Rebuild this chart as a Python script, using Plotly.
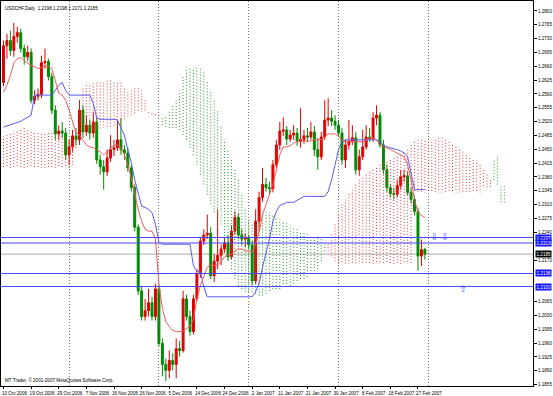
import plotly.graph_objects as go

# ---------------- data ----------------
bar_index = list(range(123))

opens = [1.2619,1.2712,1.2725,1.2700,1.2735,1.2745,1.2705,1.2684,1.2695,1.2574,
         1.2584,1.2589,1.2669,1.2672,1.2634,1.2549,1.2489,1.2496,1.2491,1.2436,
         1.2456,1.2484,1.2474,1.2549,1.2494,1.2511,1.2491,1.2519,1.2423,1.2406,
         1.2393,1.2428,1.2449,1.2454,1.2474,1.2449,1.2441,1.2403,1.2353,1.2253,
         1.2092,1.2027,1.2042,1.2062,1.2027,1.2097,1.1959,1.1906,1.1891,1.1916,
         1.1906,1.1946,1.1941,1.2072,1.2027,1.1989,1.2072,1.2135,1.2218,1.2233,
         1.2238,1.2130,1.2167,1.2182,1.2198,1.2213,1.2178,1.2243,1.2278,1.2233,
         1.2223,1.2228,1.2208,1.2117,1.2268,1.2328,1.2361,1.2353,1.2351,1.2411,
         1.2461,1.2496,1.2499,1.2476,1.2486,1.2491,1.2471,1.2474,1.2484,1.2481,
         1.2494,1.2449,1.2431,1.2481,1.2524,1.2529,1.2521,1.2511,1.2491,1.2423,
         1.2461,1.2471,1.2479,1.2398,1.2431,1.2456,1.2481,1.2476,1.2529,1.2536,
         1.2461,1.2398,1.2353,1.2338,1.2336,1.2358,1.2381,1.2383,1.2341,1.2323,
         1.2293,1.2180,1.2198]
highs = [1.2725,1.2742,1.2750,1.2770,1.2760,1.2755,1.2715,1.2712,1.2705,1.2599,
         1.2604,1.2687,1.2705,1.2679,1.2644,1.2561,1.2511,1.2519,1.2504,1.2474,
         1.2499,1.2504,1.2574,1.2561,1.2536,1.2524,1.2544,1.2529,1.2436,1.2423,
         1.2449,1.2486,1.2474,1.2524,1.2529,1.2461,1.2454,1.2411,1.2361,1.2260,
         1.2102,1.2072,1.2097,1.2077,1.2110,1.2107,1.1972,1.1921,1.1941,1.1934,
         1.1972,1.1966,1.2092,1.2082,1.2042,1.2082,1.2147,1.2228,1.2248,1.2285,
         1.2253,1.2185,1.2298,1.2210,1.2228,1.2233,1.2258,1.2293,1.2288,1.2248,
         1.2238,1.2233,1.2218,1.2298,1.2343,1.2403,1.2378,1.2368,1.2423,1.2474,
         1.2519,1.2531,1.2509,1.2499,1.2511,1.2504,1.2554,1.2499,1.2504,1.2519,
         1.2509,1.2479,1.2494,1.2574,1.2579,1.2549,1.2536,1.2524,1.2504,1.2474,
         1.2524,1.2511,1.2494,1.2449,1.2499,1.2511,1.2504,1.2544,1.2561,1.2544,
         1.2474,1.2411,1.2363,1.2353,1.2373,1.2398,1.2398,1.2393,1.2353,1.2333,
         1.2303,1.2222,1.2198]
lows = [1.2609,1.2679,1.2687,1.2684,1.2720,1.2695,1.2664,1.2674,1.2566,1.2564,
        1.2574,1.2579,1.2654,1.2624,1.2539,1.2474,1.2474,1.2479,1.2423,1.2411,
        1.2444,1.2459,1.2461,1.2479,1.2484,1.2474,1.2479,1.2413,1.2386,1.2348,
        1.2383,1.2418,1.2433,1.2446,1.2436,1.2423,1.2393,1.2343,1.2243,1.2082,
        1.2017,1.2017,1.2027,1.2017,1.2017,1.1952,1.1876,1.1864,1.1871,1.1891,
        1.1871,1.1926,1.1936,1.2017,1.1979,1.1982,1.2067,1.2125,1.2208,1.2223,
        1.2122,1.2115,1.2147,1.2157,1.2188,1.2167,1.2172,1.2233,1.2223,1.2208,
        1.2203,1.2198,1.2107,1.2110,1.2243,1.2318,1.2343,1.2336,1.2341,1.2403,
        1.2449,1.2484,1.2461,1.2469,1.2474,1.2459,1.2454,1.2464,1.2469,1.2474,
        1.2433,1.2398,1.2423,1.2474,1.2509,1.2509,1.2499,1.2481,1.2411,1.2403,
        1.2449,1.2461,1.2386,1.2383,1.2423,1.2449,1.2469,1.2469,1.2511,1.2454,
        1.2388,1.2343,1.2328,1.2323,1.2328,1.2348,1.2368,1.2333,1.2313,1.2283,
        1.2143,1.2155,1.2171]
closes = [1.2712,1.2725,1.2700,1.2735,1.2745,1.2705,1.2684,1.2695,1.2574,1.2584,
          1.2589,1.2669,1.2672,1.2634,1.2549,1.2489,1.2496,1.2491,1.2436,1.2456,
          1.2484,1.2474,1.2549,1.2494,1.2511,1.2491,1.2519,1.2423,1.2406,1.2393,
          1.2428,1.2449,1.2454,1.2474,1.2449,1.2441,1.2403,1.2353,1.2253,1.2092,
          1.2027,1.2042,1.2062,1.2027,1.2097,1.1959,1.1906,1.1891,1.1916,1.1906,
          1.1946,1.1941,1.2072,1.2027,1.1989,1.2072,1.2135,1.2218,1.2233,1.2238,
          1.2130,1.2167,1.2182,1.2198,1.2213,1.2178,1.2243,1.2278,1.2233,1.2223,
          1.2228,1.2208,1.2117,1.2268,1.2328,1.2361,1.2353,1.2351,1.2411,1.2461,
          1.2496,1.2499,1.2476,1.2486,1.2491,1.2471,1.2474,1.2484,1.2481,1.2494,
          1.2449,1.2431,1.2481,1.2524,1.2529,1.2521,1.2511,1.2491,1.2423,1.2461,
          1.2471,1.2479,1.2398,1.2431,1.2456,1.2481,1.2476,1.2529,1.2536,1.2461,
          1.2398,1.2353,1.2338,1.2336,1.2358,1.2381,1.2383,1.2341,1.2323,1.2293,
          1.2180,1.2196,1.2185]

tenkan = [1.2594,1.2612,1.2637,1.2669,1.2679,1.2682,1.2674,1.2667,1.2662,1.2659,
          1.2654,1.2657,1.2659,1.2659,1.2654,1.2624,1.2592,1.2587,1.2574,1.2549,
          1.2519,1.2491,1.2486,1.2474,1.2461,1.2456,1.2454,1.2449,1.2444,1.2436,
          1.2444,1.2454,1.2461,1.2461,1.2454,1.2436,1.2411,1.2378,1.2336,1.2298,
          1.2268,1.2248,1.2243,1.2243,1.2223,1.2110,1.2047,1.2014,1.2002,1.1992,
          1.1989,1.1989,1.1989,1.1997,1.2002,1.2022,1.2072,1.2105,1.2130,1.2152,
          1.2157,1.2157,1.2157,1.2167,1.2178,1.2183,1.2185,1.2193,1.2198,1.2198,
          1.2193,1.2193,1.2190,1.2210,1.2240,1.2285,1.2311,1.2336,1.2361,1.2398,
          1.2436,1.2456,1.2456,1.2459,1.2466,1.2469,1.2469,1.2471,1.2471,1.2471,
          1.2474,1.2474,1.2474,1.2481,1.2489,1.2489,1.2489,1.2484,1.2474,1.2469,
          1.2469,1.2469,1.2469,1.2469,1.2469,1.2474,1.2479,1.2479,1.2474,1.2461,
          1.2456,1.2454,1.2449,1.2444,1.2441,1.2436,1.2431,1.2411,1.2373,1.2323,
          1.2290,1.2283,1.2278]
kijun = [1.2506,1.2509,1.2511,1.2516,1.2519,1.2521,1.2526,1.2531,1.2536,1.2587,
         1.2587,1.2587,1.2587,1.2587,1.2587,1.2599,1.2612,1.2619,1.2599,1.2587,
         1.2587,1.2587,1.2587,1.2587,1.2587,1.2587,1.2566,1.2529,1.2526,1.2526,
         1.2526,1.2526,1.2526,1.2524,1.2504,1.2486,1.2449,1.2416,1.2373,1.2336,
         1.2306,1.2303,1.2298,1.2290,1.2260,1.2215,1.2210,1.2210,1.2210,1.2210,
         1.2210,1.2210,1.2210,1.2210,1.2210,1.2155,1.2142,1.2140,1.2102,1.2077,
         1.2077,1.2077,1.2077,1.2077,1.2077,1.2077,1.2077,1.2077,1.2077,1.2077,
         1.2077,1.2077,1.2077,1.2090,1.2110,1.2152,1.2185,1.2223,1.2268,1.2293,
         1.2308,1.2313,1.2316,1.2316,1.2316,1.2321,1.2326,1.2331,1.2331,1.2331,
         1.2331,1.2331,1.2331,1.2331,1.2343,1.2373,1.2411,1.2449,1.2469,1.2474,
         1.2474,1.2474,1.2474,1.2474,1.2474,1.2474,1.2474,1.2474,1.2474,1.2469,
         1.2461,1.2456,1.2454,1.2451,1.2449,1.2446,1.2441,1.2431,1.2386,1.2348,
         1.2348,1.2348,1.2348]

# Senkou spans (already shifted 26 bars ahead, bars 0..145)
senkou_a = [1.2484,1.2486,1.2489,1.2491,1.2494,1.2499,1.2504,1.2499,1.2494,1.2491,
            1.2491,1.2489,1.2489,1.2491,1.2491,1.2489,1.2486,1.2484,1.2479,1.2474,
            1.2474,1.2479,1.2574,1.2604,1.2612,1.2612,1.2617,1.2619,1.2619,1.2619,
            1.2624,1.2624,1.2619,1.2617,1.2619,1.2604,1.2594,1.2599,1.2604,1.2604,
            1.2599,1.2574,1.2544,1.2541,1.2539,1.2536,
            1.2511,1.2506,1.2504,1.2504,1.2504,1.2499,1.2486,1.2474,1.2454,1.2436,
            1.2411,1.2386,1.2361,1.2336,1.2311,1.2290,1.2278,1.2260,1.2223,1.2185,
            1.2147,1.2122,1.2105,1.2097,1.2090,1.2090,1.2090,1.2085,1.2080,1.2080,
            1.2085,1.2092,1.2097,1.2097,1.2097,1.2102,1.2102,1.2105,1.2110,1.2117,
            1.2122,1.2122,1.2127,1.2135,1.2142,1.2147,1.2167,1.2193,
            1.2210,1.2235,1.2260,1.2285,1.2311,1.2323,1.2336,1.2348,1.2361,1.2373,
            1.2378,1.2386,1.2393,1.2398,1.2403,1.2411,1.2416,1.2418,1.2423,1.2428,
            1.2431,1.2436,1.2441,1.2449,1.2461,
            1.2469,1.2474,1.2474,1.2471,1.2469,1.2469,1.2474,1.2479,1.2479,1.2474,
            1.2469,1.2461,1.2456,1.2449,1.2444,1.2436,1.2428,1.2423,1.2416,1.2411,
            1.2398,1.2386,1.2373,
            1.2373,1.2361,1.2316,1.2316]
senkou_b = [1.2403,1.2403,1.2403,1.2403,1.2403,1.2403,1.2403,1.2403,1.2403,1.2403,
            1.2403,1.2403,1.2403,1.2403,1.2403,1.2403,1.2403,1.2403,1.2403,1.2403,
            1.2411,1.2449,1.2499,1.2504,1.2504,1.2501,1.2499,1.2499,1.2501,1.2504,
            1.2504,1.2506,1.2506,1.2506,1.2511,1.2524,1.2531,1.2536,1.2541,1.2544,
            1.2544,1.2544,1.2539,1.2536,1.2534,1.2531,
            1.2534,1.2536,1.2544,1.2561,1.2574,1.2599,1.2637,1.2657,1.2657,1.2657,
            1.2657,1.2657,1.2649,1.2624,1.2599,1.2574,1.2549,1.2511,1.2474,1.2449,
            1.2423,1.2398,1.2373,1.2336,1.2298,1.2273,1.2260,1.2260,1.2285,1.2293,
            1.2293,1.2290,1.2285,1.2278,1.2273,1.2268,1.2263,1.2258,1.2253,1.2248,
            1.2243,1.2238,1.2235,1.2233,1.2230,1.2228,1.2223,1.2210,
            1.2193,1.2178,1.2167,1.2160,1.2160,1.2160,1.2160,1.2160,1.2160,1.2160,
            1.2160,1.2160,1.2160,1.2160,1.2160,1.2160,1.2160,1.2160,1.2160,1.2160,
            1.2160,1.2160,1.2160,1.2160,1.2160,
            1.2341,1.2341,1.2341,1.2341,1.2341,1.2341,1.2341,1.2341,1.2341,1.2341,
            1.2341,1.2341,1.2341,1.2341,1.2341,1.2341,1.2341,1.2341,1.2341,1.2341,
            1.2353,1.2353,1.2353,
            1.2423,1.2431,1.2356,1.2356]

date_tick_bars = [0, 8, 16, 24, 32, 40, 48, 56, 64, 72, 80, 88, 96, 104, 112, 120]
date_labels = ["10 Oct 2006", "19 Oct 2006", "29 Oct 2006", "7 Nov 2006", "16 Nov 2006",
               "26 Nov 2006", "5 Dec 2006", "14 Dec 2006", "24 Dec 2006", "2 Jan 2007",
               "11 Jan 2007", "21 Jan 2007", "30 Jan 2007", "8 Feb 2007", "18 Feb 2007",
               "27 Feb 2007"]
grid_bars = [19, 45, 71, 97, 123]
price_ticks = [1.1855, 1.1890, 1.1925, 1.1960, 1.1995, 1.2030, 1.2065, 1.2170, 1.2240,
               1.2275, 1.2310, 1.2345, 1.2380, 1.2415, 1.2450, 1.2485, 1.2520, 1.2555,
               1.2590, 1.2625, 1.2660, 1.2695, 1.2730, 1.2765, 1.2800]
level_prices = [1.2227, 1.2213, 1.2136, 1.2103]
last_price = 1.2185
arrow_bars = [124.8, 127.8, 133.1]
arrow_prices = [1.2226, 1.2226, 1.2094]
arrow_symbols = ["\u21e9", "\u21e9", "\u21e7"]
title_text = "USDCHF,Daily  1.2198 1.2198 1.2171 1.2185"
footer_text = "MT Trader, \u00a9 2001-2007 MetaQuotes Software Corp."

# ---------------- styles ----------------
UP = "#e00000"
DOWN = "#008a00"
CLOUD_RED = "rgb(225,55,55)"
CLOUD_GREEN = "rgb(35,145,35)"
LEVEL = "rgb(70,70,255)"
FONT = "Liberation Sans, Arial, sans-serif"
FS = 4.6

fig = go.Figure()

# cloud hatching: one dotted vertical stroke per bar between the spans
def hatch(red):
    xs, ys = [], []
    for i, (a, b) in enumerate(zip(senkou_a, senkou_b)):
        if (a >= b) == red:
            xs += [i, i, None]
            ys += [a, b, None]
    return xs, ys

for red, col in ((True, CLOUD_RED), (False, CLOUD_GREEN)):
    hx, hy = hatch(red)
    fig.add_trace(go.Scatter(x=hx, y=hy, mode="lines", connectgaps=False,
                             line=dict(color=col, width=1, dash="1px,2px"),
                             hoverinfo="skip"))

fig.add_trace(go.Scatter(x=bar_index, y=kijun, mode="lines",
                         line=dict(color="rgb(90,90,235)", width=1), hoverinfo="skip"))
fig.add_trace(go.Scatter(x=bar_index, y=tenkan, mode="lines",
                         line=dict(color="rgb(240,90,90)", width=1), hoverinfo="skip"))

fig.add_trace(go.Candlestick(
    x=bar_index, open=opens, high=highs, low=lows, close=closes,
    increasing=dict(line=dict(color=UP, width=1), fillcolor=UP),
    decreasing=dict(line=dict(color=DOWN, width=1), fillcolor=DOWN),
    whiskerwidth=0, hoverinfo="skip"))

fig.add_trace(go.Scatter(x=arrow_bars, y=arrow_prices, mode="text", text=arrow_symbols,
                         textfont=dict(family="DejaVu Sans", size=9, color="rgb(70,90,235)"),
                         hoverinfo="skip"))

shapes = []
for p in level_prices:
    shapes.append(dict(type="line", xref="paper", x0=0, x1=1, yref="y", y0=p, y1=p,
                       line=dict(color=LEVEL, width=1), layer="above"))
shapes.append(dict(type="line", xref="paper", x0=0, x1=1, yref="y", y0=last_price, y1=last_price,
                   line=dict(color="rgb(170,170,170)", width=1), layer="below"))

annotations = []
for p in level_prices:
    annotations.append(dict(xref="paper", x=1, xanchor="left", xshift=2, yref="y", y=p,
                            yanchor="middle", text="%.4f" % p, showarrow=False,
                            font=dict(family=FONT, size=FS, color="white"),
                            bgcolor="rgb(20,20,255)", borderpad=0.5))
annotations.append(dict(xref="paper", x=1, xanchor="left", xshift=2, yref="y", y=last_price,
                        yanchor="middle", text="%.4f" % last_price, showarrow=False,
                        font=dict(family=FONT, size=FS, color="white"),
                        bgcolor="black", borderpad=0.5))
annotations.append(dict(xref="paper", x=0, xanchor="left", xshift=2, yref="paper", y=1,
                        yanchor="top", yshift=-3, text=title_text, showarrow=False,
                        font=dict(family=FONT, size=FS, color="black")))
annotations.append(dict(xref="paper", x=0, xanchor="left", xshift=2, yref="paper", y=0,
                        yanchor="bottom", yshift=1, text=footer_text, showarrow=False,
                        font=dict(family=FONT, size=FS, color="black")))

fig.update_layout(
    width=553, height=396, margin=dict(l=0, r=20, t=0, b=8),
    paper_bgcolor="white", plot_bgcolor="white", showlegend=False,
    boxgap=0.2,
    shapes=shapes, annotations=annotations,
    xaxis=dict(range=[-0.72, 153.3], tickmode="array", tickvals=date_tick_bars,
               ticktext=date_labels, ticks="outside", ticklen=2, tickcolor="black",
               tickangle=0,
               tickfont=dict(family=FONT, size=FS, color="black"), ticklabelshift=11,
               showgrid=False, zeroline=False, showline=True, linecolor="black",
               linewidth=1, mirror=True, rangeslider=dict(visible=False),
               minor=dict(tickmode="array", tickvals=grid_bars, showgrid=True,
                          gridcolor="rgb(120,120,120)", griddash="1px,2px", ticks="")),
    yaxis=dict(side="right", range=[1.18515, 1.2825], tickmode="array",
               tickvals=price_ticks, tickformat=".4f", ticks="outside", ticklen=3,
               tickcolor="black", tickfont=dict(family=FONT, size=FS, color="black"),
               showgrid=False, zeroline=False, showline=True, linecolor="black",
               linewidth=1, mirror=True),
)

fig.write_html("out.html")
